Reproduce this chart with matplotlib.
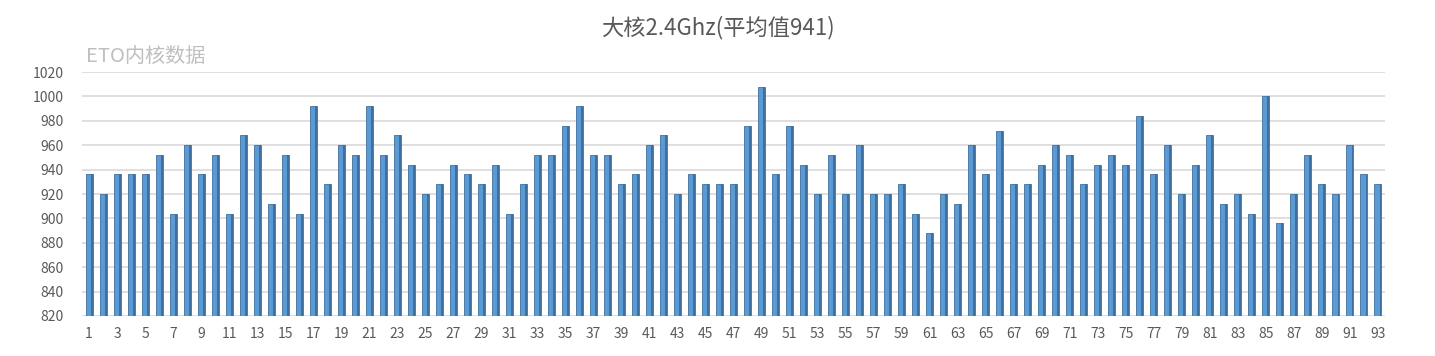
import numpy as np
import matplotlib
matplotlib.use("Agg")
import matplotlib.pyplot as plt

plt.rcParams['font.family'] = ['Noto Sans CJK SC', 'DejaVu Sans']

# 数据
titulo = "大核2.4Ghz(平均值941)"
etiqueta = "ETO内核数据"
indices = list(range(1, 94))
valores = [
    936, 920, 936, 936, 936, 952, 904, 960, 936, 952,
    904, 968, 960, 912, 952, 904, 992, 928, 960, 952,
    992, 952, 968, 944, 920, 928, 944, 936, 928, 944,
    904, 928, 952, 952, 976, 992, 952, 952, 928, 936,
    960, 968, 920, 936, 928, 928, 928, 976, 1008, 936,
    976, 944, 920, 952, 920, 960, 920, 920, 928, 904,
    888, 920, 912, 960, 936, 972, 928, 928, 944, 960,
    952, 928, 944, 952, 944, 984, 936, 960, 920, 944,
    968, 912, 920, 904, 1000, 896, 920, 952, 928, 920,
    960, 936, 928,
]
y_ticks = list(range(820, 1021, 20))
base = 820

fig = plt.figure(figsize=(14.35, 3.56), dpi=100)
ax = fig.add_axes([82 / 1435, 40 / 356, 1303 / 1435, 244 / 356])

x = np.array(indices)
alturas = np.array(valores) - base
ancho = 0.5
ax.bar(x, alturas, bottom=base, width=ancho,
       color="#5B9BD5", edgecolor="#41719C", linewidth=0.6, zorder=3)
# franja oscura a la derecha (efecto 3D)
ax.bar(x + ancho / 2 - 0.07, alturas, bottom=base, width=0.14,
       color="#3F6F9E", linewidth=0, zorder=4)

ax.set_xlim(0.5, 93.5)
ax.set_ylim(820, 1020)
ax.set_yticks(y_ticks)
ax.set_xticks(indices[::2])
ax.set_xticklabels([str(i) for i in indices[::2]])
ax.grid(axis="y", color="#D9D9D9", linewidth=1.2, zorder=0)
ax.set_axisbelow(True)
for s in ax.spines.values():
    s.set_visible(False)
ax.tick_params(axis="both", length=0, labelsize=10, colors="#595959")
ax.tick_params(axis="y", pad=13)
ax.tick_params(axis="x", pad=8)

fig.text(0.5, 1 - 28 / 356, titulo, ha="center", va="center",
         fontsize=16, color="#595959")
fig.text(86 / 1435, 1 - 56 / 356, etiqueta, ha="left", va="center",
         fontsize=14.5, color="#BFBFBF")

fig.savefig("out.png", dpi=100)
